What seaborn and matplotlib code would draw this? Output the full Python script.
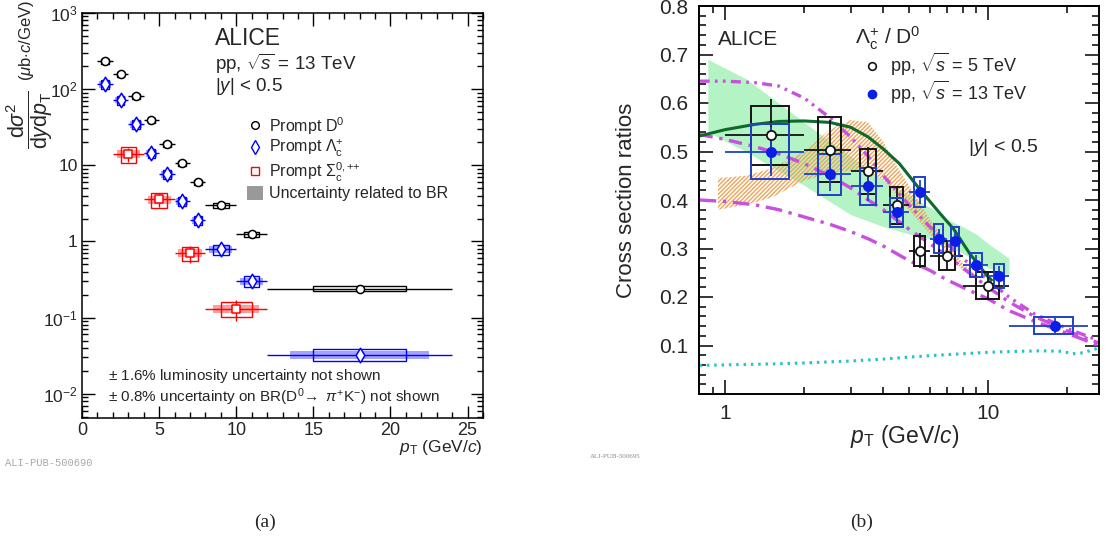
import numpy as np
import matplotlib
matplotlib.use("Agg")
import matplotlib.pyplot as plt
import seaborn as sns
from matplotlib.lines import Line2D
from matplotlib.patches import Patch
from matplotlib.ticker import FixedLocator, FixedFormatter, NullFormatter, LogLocator, MultipleLocator

# ---------------- (a) prompt charm-hadron cross sections, pp 13 TeV ----------------
bin_lo = [1, 2, 3, 4, 5, 6, 7, 8, 10, 12]
bin_hi = [2, 3, 4, 5, 6, 7, 8, 10, 12, 24]
d0_xsec = [233, 157, 81, 39, 18.9, 10.6, 6.0, 3.0, 1.24, 0.24]
d0_stat = [0.03, 0.02, 0.02, 0.02, 0.02, 0.03, 0.03, 0.03, 0.04, 0.06]
d0_syst = [0.08, 0.07, 0.07, 0.07, 0.07, 0.07, 0.07, 0.07, 0.07, 0.08]
lc_xsec = [116, 72, 34.7, 14.4, 7.6, 3.36, 1.89, 0.785, 0.30, 0.0326]
lc_stat = [0.08, 0.06, 0.06, 0.06, 0.07, 0.08, 0.09, 0.10, 0.12, 0.15]
lc_syst = [0.14, 0.13, 0.13, 0.13, 0.13, 0.14, 0.14, 0.15, 0.16, 0.18]
lc_br = [0.10, 0.10, 0.10, 0.10, 0.10, 0.10, 0.10, 0.10, 0.10, 0.12]
sc_lo = [2, 4, 6, 8]
sc_hi = [4, 6, 8, 12]
sc_xsec = [14.0, 3.57, 0.70, 0.13]
sc_stat = [0.22, 0.20, 0.25, 0.30]
sc_syst = [0.24, 0.22, 0.22, 0.22]
sc_br = [0.12, 0.12, 0.12, 0.12]

# ---------------- (b) Lambda_c+ / D0 ratios ----------------
r5_lo = [1, 2, 3, 4, 5, 6, 8]
r5_hi = [2, 3, 4, 5, 6, 8, 12]
r5_val = [0.533, 0.504, 0.459, 0.389, 0.295, 0.285, 0.223]
r5_stat = [0.075, 0.060, 0.050, 0.040, 0.036, 0.032, 0.030]
r5_syst = [0.060, 0.067, 0.046, 0.038, 0.031, 0.030, 0.028]
r13_lo = [1, 2, 3, 4, 5, 6, 7, 8, 10, 12]
r13_hi = [2, 3, 4, 5, 6, 7, 8, 10, 12, 24]
r13_val = [0.500, 0.453, 0.428, 0.375, 0.416, 0.320, 0.315, 0.266, 0.244, 0.141]
r13_stat = [0.050, 0.035, 0.030, 0.025, 0.025, 0.020, 0.020, 0.020, 0.020, 0.015]
r13_syst = [0.056, 0.042, 0.038, 0.030, 0.031, 0.030, 0.030, 0.025, 0.025, 0.017]

# model predictions
qcm_pt = [0.86, 1.2, 1.6, 2.0, 3.0, 4.0, 5.0, 6.0, 7.0, 8.0, 9.0, 10.0, 12.0]
qcm_hi = [0.69, 0.65, 0.60, 0.56, 0.49, 0.44, 0.41, 0.385, 0.36, 0.345, 0.33, 0.31, 0.28]
qcm_lo = [0.54, 0.50, 0.46, 0.43, 0.37, 0.345, 0.33, 0.32, 0.305, 0.29, 0.275, 0.26, 0.245]
cat_pt = [0.94, 1.2, 1.5, 2.0, 2.5, 3.0, 3.5, 4.0, 4.5, 5.0, 6.0, 7.0, 8.0, 9.0]
cat_hi = [0.445, 0.45, 0.465, 0.50, 0.545, 0.565, 0.56, 0.52, 0.47, 0.43, 0.36, 0.31, 0.27, 0.245]
cat_lo = [0.38, 0.39, 0.405, 0.44, 0.455, 0.46, 0.46, 0.44, 0.41, 0.38, 0.33, 0.29, 0.255, 0.235]
shm_pt = [0.8, 1.0, 1.3, 1.6, 2.0, 2.5, 3.0, 3.5, 4.0, 4.6, 5.5, 6.5, 7.4, 8.5, 9.9, 10.3]
shm_val = [0.532, 0.545, 0.556, 0.562, 0.563, 0.560, 0.550, 0.530, 0.505, 0.475, 0.422, 0.375, 0.34, 0.29, 0.244, 0.235]
cr_pt = [0.8, 1.0, 1.3, 1.6, 2.0, 2.5, 3.0, 3.5, 4.0, 5.0, 6.0, 7.0, 8.0, 10.0, 12.0, 15.0, 20.0, 26.4]
cr_mode2 = [0.645, 0.645, 0.642, 0.635, 0.61, 0.57, 0.53, 0.49, 0.45, 0.39, 0.345, 0.31, 0.28, 0.235, 0.20, 0.165, 0.135, 0.11]
cr_mode3 = [0.535, 0.525, 0.51, 0.495, 0.475, 0.45, 0.425, 0.40, 0.38, 0.34, 0.31, 0.285, 0.26, 0.22, 0.19, 0.16, 0.13, 0.105]
cr_mode0 = [0.40, 0.397, 0.39, 0.38, 0.365, 0.35, 0.335, 0.32, 0.305, 0.275, 0.255, 0.235, 0.22, 0.196, 0.172, 0.15, 0.125, 0.10]
monash_pt = [0.8, 1.0, 1.5, 2.0, 3.0, 4.0, 5.0, 6.0, 8.0, 10.0, 13.0, 16.0, 19.0, 21.0, 23.0, 26.4]
monash_val = [0.059, 0.060, 0.062, 0.064, 0.068, 0.072, 0.076, 0.079, 0.083, 0.086, 0.088, 0.089, 0.088, 0.083, 0.085, 0.095]

# ---------------- style ----------------
sns.set_theme(style="ticks")
plt.rcParams["font.family"] = ["Liberation Sans", "DejaVu Sans"]
plt.rcParams["mathtext.fontset"] = "custom"
plt.rcParams["mathtext.rm"] = "Liberation Sans"
plt.rcParams["mathtext.it"] = "Liberation Sans:italic"
plt.rcParams["mathtext.bf"] = "Liberation Sans:bold"
plt.rcParams["mathtext.sf"] = "Liberation Sans"
plt.rcParams["axes.edgecolor"] = "black"
plt.rcParams["axes.linewidth"] = 1.1
plt.rcParams["hatch.linewidth"] = 1.0
plt.rcParams["hatch.color"] = "#f0a458"

W, H = 1107, 543
fig = plt.figure(figsize=(W / 100, H / 100), dpi=100)


def fx(px):
    return px / W


def fy(py):
    return 1 - py / H


ax1 = fig.add_axes([fx(82), fy(418), fx(483) - fx(82), fy(13) - fy(418)])
ax2 = fig.add_axes([fx(699), fy(394), fx(1099) - fx(699), fy(6) - fy(394)])


def draw_xsec(ax, lo, hi, val, stat, syst, color, marker, msize, br=None, br_color=None):
    lo, hi, val = np.asarray(lo, float), np.asarray(hi, float), np.asarray(val, float)
    ctr = 0.5 * (lo + hi)
    half = 0.5 * (hi - lo)
    if br is not None:
        br = np.asarray(br)
        ax.bar(ctr, 2 * br * val, bottom=val * (1 - br), width=1.5 * half,
               color=br_color, linewidth=0, zorder=2)
    syst = np.asarray(syst)
    ax.bar(ctr, 2 * syst * val, bottom=val * (1 - syst), width=half,
           fill=False, edgecolor=color, linewidth=1.0, zorder=3)
    ax.errorbar(ctr, val, xerr=half, yerr=np.asarray(stat) * val, fmt="none",
                ecolor=color, elinewidth=1.0, capsize=0, zorder=3)
    sns.scatterplot(x=ctr, y=val, ax=ax, marker=marker, s=msize, color="white",
                    edgecolor=color, linewidth=1.1, zorder=4, legend=False)


# ---------------- panel (a) ----------------
ax1.set_yscale("log")
draw_xsec(ax1, bin_lo, bin_hi, d0_xsec, d0_stat, d0_syst, "black", "o", 34)
draw_xsec(ax1, bin_lo, bin_hi, lc_xsec, lc_stat, lc_syst, "#0000ff", "d", 55,
          br=lc_br, br_color="#a4a4ff")
draw_xsec(ax1, sc_lo, sc_hi, sc_xsec, sc_stat, sc_syst, "#ff0000", "s", 34,
          br=sc_br, br_color="#ff9c9c")
ax1.set_xlim(0, 26)
ax1.set_ylim(0.0048, 1000)
ax1.xaxis.set_major_locator(FixedLocator([0, 5, 10, 15, 20, 25]))
ax1.xaxis.set_minor_locator(MultipleLocator(1))
ax1.yaxis.set_major_locator(FixedLocator([1e-2, 1e-1, 1, 10, 1e2, 1e3]))
ax1.yaxis.set_major_formatter(FixedFormatter(
    [r"$10^{-2}$", r"$10^{-1}$", "1", "10", r"$10^{2}$", r"$10^{3}$"]))
ax1.yaxis.set_minor_locator(LogLocator(base=10, subs=np.arange(2, 10), numticks=20))
ax1.yaxis.set_minor_formatter(NullFormatter())
ax1.tick_params(which="both", direction="in", top=True, right=True, color="black", width=1.0)
ax1.tick_params(which="major", length=9)
ax1.tick_params(which="minor", length=4.5)
ax1.tick_params(axis="x", labelsize=13, pad=3)
ax1.tick_params(axis="y", labelsize=12.5, pad=3)
ax1.set_xlabel(r"$p_{\mathrm{T}}$ (GeV/$c$)", fontsize=12.5, loc="right")
ax1.xaxis.set_label_coords(1.0, -0.05)

# y title: large fraction followed by the units
fig.text(fx(30), fy(120), r"$\dfrac{\mathrm{d}\sigma^{2}}{\mathrm{d}y\mathrm{d}p_{\mathrm{T}}}$",
         fontsize=15.5, rotation=90, ha="center", va="center")
fig.text(fx(26), fy(40), r"($\mu$b$\cdot c$/GeV)", fontsize=12, rotation=90,
         ha="center", va="center")

fig.text(fx(215), fy(45), "ALICE", fontsize=16.5, va="baseline")
fig.text(fx(215), fy(70), r"pp, $\sqrt{s}$ = 13 TeV", fontsize=13.5, va="baseline")
fig.text(fx(215), fy(91), r"$|y|$ < 0.5", fontsize=13.5, va="baseline")

handles = [
    Line2D([], [], ls="none", marker="o", ms=5.5, mfc="white", mec="black", mew=1.0),
    Line2D([], [], ls="none", marker="d", ms=7, mfc="white", mec="#0000ff", mew=1.0),
    Line2D([], [], ls="none", marker="s", ms=5.5, mfc="white", mec="#ff0000", mew=1.0),
    Patch(facecolor="#999999", edgecolor="none"),
]
labels = ["Prompt D$^{0}$", r"Prompt $\Lambda_{\mathrm{c}}^{+}$",
          r"Prompt $\Sigma_{\mathrm{c}}^{0,{+}{+}}$", "Uncertainty related to BR"]
ax1.legend(handles, labels, loc="upper left", bbox_to_anchor=((247 - 82) / 401, (418 - 115) / 405),
           frameon=False, fontsize=11.5, handlelength=1.0, handleheight=1.0, handletextpad=0.35,
           labelspacing=0.1, borderaxespad=0, borderpad=0)

fig.text(fx(108), fy(380), r"$\pm$ 1.6% luminosity uncertainty not shown", fontsize=11, va="baseline")
fig.text(fx(108), fy(402), r"$\pm$ 0.8% uncertainty on BR(D$^{0}\!\rightarrow$ $\pi^{+}$K$^{-}$) not shown",
         fontsize=11, va="baseline")
fig.text(fx(5), fy(466), "ALI-PUB-500690", fontsize=7.5, family="Liberation Mono",
         color="#a8a8a8", va="baseline")

# ---------------- panel (b) ----------------
ax2.set_xscale("log")
ax2.fill_between(qcm_pt, qcm_lo, qcm_hi, color="#b4f3c4", linewidth=0, zorder=1)
ax2.fill_between(cat_pt, cat_lo, cat_hi, facecolor="none", edgecolor="#f0a458",
                 hatch="////////", linewidth=0, zorder=1.5)
sns.lineplot(x=cr_pt, y=cr_mode2, ax=ax2, color="#c94fe0", linewidth=2.4,
             linestyle=(0, (3, 1.6, 0.8, 1.6, 0.8, 1.6)), sort=False, estimator=None, zorder=2)
sns.lineplot(x=cr_pt, y=cr_mode3, ax=ax2, color="#c94fe0", linewidth=2.4,
             linestyle=(0, (4, 2, 1, 2)), sort=False, estimator=None, zorder=2)
sns.lineplot(x=cr_pt, y=cr_mode0, ax=ax2, color="#c94fe0", linewidth=2.4,
             linestyle=(0, (5, 2, 1, 2)), sort=False, estimator=None, zorder=2)
sns.lineplot(x=monash_pt, y=monash_val, ax=ax2, color="#1fc4c8", linewidth=2.2,
             linestyle=(0, (0.8, 1.6)), sort=False, estimator=None, zorder=2)
sns.lineplot(x=shm_pt, y=shm_val, ax=ax2, color="#0c6a2c", linewidth=2.2,
             sort=False, estimator=None, zorder=2.5)


def draw_ratio(ax, lo, hi, val, stat, syst, color, box_color, filled):
    lo, hi, val = np.asarray(lo, float), np.asarray(hi, float), np.asarray(val, float)
    ctr = 0.5 * (lo + hi)
    half = 0.5 * (hi - lo)
    q = 0.5 * half
    syst = np.asarray(syst)
    ax.bar(ctr - q, 2 * syst, bottom=val - syst, width=2 * q, align="edge",
           fill=False, edgecolor=box_color, linewidth=1.4, zorder=3)
    ax.errorbar(ctr, val, xerr=half, yerr=np.asarray(stat), fmt="none",
                ecolor=box_color, elinewidth=1.3, capsize=0, zorder=3)
    sns.scatterplot(x=ctr, y=val, ax=ax, marker="o", s=44,
                    color=color if filled else "white", edgecolor=box_color if not filled else color,
                    linewidth=1.3, zorder=4, legend=False)


draw_ratio(ax2, r5_lo, r5_hi, r5_val, r5_stat, r5_syst, "white", "#141414", False)
draw_ratio(ax2, r13_lo, r13_hi, r13_val, r13_stat, r13_syst, "#0a1ee6", "#2040c8", True)

ax2.set_xlim(0.796, 26.4)
ax2.set_ylim(0, 0.8)
ax2.xaxis.set_major_locator(FixedLocator([1, 10]))
ax2.xaxis.set_major_formatter(FixedFormatter(["1", "10"]))
ax2.xaxis.set_minor_locator(FixedLocator([0.9, 2, 3, 4, 5, 6, 7, 8, 9, 20]))
ax2.xaxis.set_minor_formatter(NullFormatter())
ax2.yaxis.set_major_locator(FixedLocator([0.1, 0.2, 0.3, 0.4, 0.5, 0.6, 0.7, 0.8]))
ax2.yaxis.set_major_formatter(FixedFormatter(["0.1", "0.2", "0.3", "0.4", "0.5", "0.6", "0.7", "0.8"]))
ax2.yaxis.set_minor_locator(MultipleLocator(0.02))
ax2.tick_params(which="both", direction="in", top=True, right=True, color="black", width=1.1)
ax2.tick_params(which="major", length=10)
ax2.tick_params(which="minor", length=5)
ax2.tick_params(axis="both", labelsize=15)
ax2.tick_params(axis="x", pad=7)
ax2.tick_params(axis="y", pad=8)
for s in ax2.spines.values():
    s.set_linewidth(1.4)
ax2.set_xlabel(r"$p_{\mathrm{T}}$ (GeV/$c$)", fontsize=16.5)
ax2.xaxis.set_label_coords(0.515, -0.075)
ax2.set_ylabel("Cross section ratios", fontsize=16)
ax2.yaxis.set_label_coords(-0.155, 0.5)

fig.text(fx(718), fy(45), "ALICE", fontsize=15, va="baseline")
fig.text(fx(855), fy(44), r"$\Lambda_{\mathrm{c}}^{+}$ / D$^{0}$", fontsize=15, va="baseline")
fig.text(fx(968), fy(152), r"|$y$| < 0.5", fontsize=14, va="baseline")
handles2 = [
    Line2D([], [], ls="none", marker="o", ms=5.5, mfc="white", mec="#141414", mew=1.2),
    Line2D([], [], ls="none", marker="o", ms=6, mfc="#0a1ee6", mec="#0a1ee6"),
]
labels2 = [r"pp, $\sqrt{s}$ = 5 TeV", r"pp, $\sqrt{s}$ = 13 TeV"]
ax2.legend(handles2, labels2, loc="upper left", bbox_to_anchor=((864 - 699) / 400, (394 - 51) / 388),
           frameon=False, fontsize=13, handlelength=0.9, handletextpad=0.55,
           labelspacing=0.05, borderaxespad=0, borderpad=0)
fig.text(fx(590), fy(458), "ALI-PUB-500695", fontsize=5, family="Liberation Serif",
         color="#888888", va="baseline")

fig.text(fx(265), fy(527), "(a)", fontsize=14, family="Liberation Serif", ha="center", va="baseline")
fig.text(fx(862), fy(527), "(b)", fontsize=14, family="Liberation Serif", ha="center", va="baseline")

fig.savefig("out.png", dpi=100, facecolor="white")
